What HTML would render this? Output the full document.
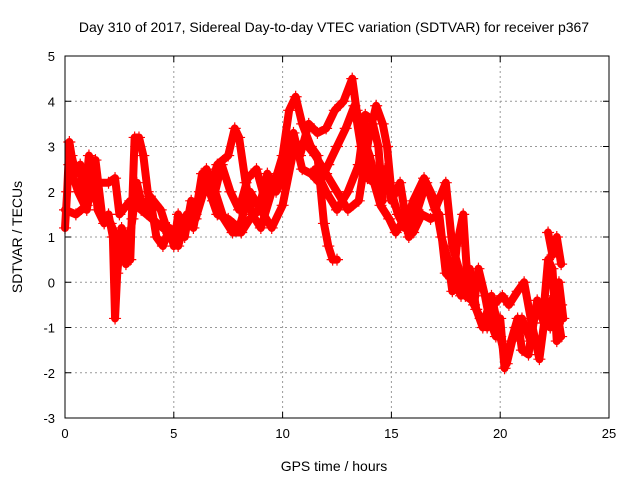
<!DOCTYPE html>
<html><head><meta charset="utf-8"><style>
html,body{margin:0;padding:0;background:#fff}
svg{display:block;font-family:"Liberation Sans",sans-serif}
</style></head><body>
<svg id="chart" width="640" height="480">
<rect width="640" height="480" fill="#fff"/>
<g id="grid"></g>
<g id="axes"></g>
<g id="marks"></g>
<rect x="65" y="56" width="544" height="362" fill="none" stroke="#000" stroke-width="1"/>
<text x="334" y="32" text-anchor="middle" font-size="14">Day 310 of 2017, Sidereal Day-to-day VTEC variation (SDTVAR) for receiver p367</text>
<text x="334" y="471" text-anchor="middle" font-size="14">GPS time / hours</text>
<text transform="translate(22,237) rotate(-90)" text-anchor="middle" font-size="14">SDTVAR / TECUs</text>
</svg>
<script>
const xTicks=[0,5,10,15,20,25];
const yTicks=[-3,-2,-1,0,1,2,3,4,5];
const trackA=[[0,1.2],[0.1,2],[0.2,3.1],[0.3,2.8],[0.5,2.4],[0.7,2.6],[0.9,1.8],[1.1,2.8],[1.3,2.6],[1.5,1.6],[1.8,1.3],[2.0,1.5],[2.2,1.0],[2.3,-0.8],[2.4,0.2],[2.6,1.2],[2.8,1.0],[3.0,0.5],[3.2,3.2],[3.4,3.2],[3.6,2.8],[3.8,2.0],[4.0,1.6],[4.2,1.0],[4.5,0.8],[4.8,1.2],[5,0.8],[5.2,1.5],[5.5,1.0],[5.8,1.8],[6.0,1.5],[6.3,2.4],[6.6,2.0],[7.0,2.6],[7.5,2.8],[7.8,3.4],[8.0,3.2],[8.3,2.2],[8.6,1.5],[9,1.2],[9.5,2.0],[10,2.8],[10.3,3.8],[10.6,4.1],[10.9,3.5],[11.3,3.0],[11.6,2.8],[11.9,1.3],[12.1,0.8],[12.3,0.5],[12.5,0.5]];
const trackB=[[0,1.6],[0.5,1.5],[1,1.7],[1.5,2.2],[2,2.2],[2.3,2.3],[2.5,1.5],[3,1.8],[3.5,1.6],[4,1.4],[4.5,1.2],[5,1.0],[5.5,1.2],[6,1.4],[6.5,2.2],[7,1.5],[7.5,1.4],[8,1.2],[8.5,2.0],[9,1.6],[9.5,1.2],[10,1.7],[10.5,2.9],[11,3.1],[11.5,2.8],[12,2.4],[12.5,2.0],[13,1.6],[13.5,1.8],[14,3.3],[14.3,3.9],[14.6,3.5],[14.8,3.0],[15,2.0],[15.3,1.5],[15.6,1.2],[16,1.8],[16.5,2.3],[17,1.8],[17.3,1.0],[17.6,0.5],[17.8,-0.2],[18,0.8],[18.3,1.5],[18.5,0.0],[18.8,-0.5],[19,0.3],[19.3,-0.3],[19.5,-0.8],[19.8,-1.2],[20,-0.8],[20.2,-1.9],[20.5,-1.3],[20.8,-0.8],[21,-1.5],[21.3,-1.6],[21.5,-0.9],[21.8,-0.5],[22,-0.6],[22.2,0.5],[22.4,0.3],[22.6,-1.3],[22.8,-0.5]];
const trackC=[[6.8,1.8],[7.2,2.6],[7.6,2.0],[8,1.6],[8.4,2.3],[8.8,2.5],[9.2,1.8],[9.6,2.3],[10,2.3],[10.4,3.0],[10.8,2.8],[11.2,3.5],[11.6,3.3],[12,3.4],[12.4,3.8],[12.8,4.0],[13.2,4.5],[13.4,3.8],[13.7,3.2],[14,2.8],[14.4,2.0],[14.7,2.5],[15,1.8],[15.4,2.2],[15.8,1.0],[16.2,1.6],[16.6,2.2],[17,1.6],[17.5,2.2],[17.8,0.8],[18.1,0.3],[18.4,-0.3],[18.7,-0.4],[19.1,-0.8],[19.4,-1.0],[19.7,-0.5],[20.1,-0.3],[20.4,-0.5],[20.8,-0.2],[21.1,0.0],[21.4,-0.8],[21.8,-1.7],[22.1,-0.6],[22.5,-0.3],[22.8,-1.2]];
const trackD=[[11.5,2.5],[12,2.0],[12.5,1.6],[13,2.0],[13.5,2.6],[13.8,3.7],[14.1,3.6],[14.4,3.0],[14.6,1.8]];
const trackE=[[22.2,1.1],[22.4,0.6],[22.6,1.0],[22.8,0.4]];
const trackF=[[0.2,2.6],[0.6,2.0],[1.0,1.6],[1.4,2.7],[1.7,1.5],[2.1,1.3],[2.5,0.8],[2.8,0.4],[3.1,1.4],[3.3,2.2],[3.6,1.6],[3.9,1.9],[4.4,1.6],[4.8,1.0],[5.2,0.8],[5.6,1.5],[5.9,1.2],[6.2,2.0],[6.5,2.5],[6.9,2.0],[7.3,1.4],[7.7,1.1],[8.1,1.1],[8.5,1.4],[8.9,1.6],[9.3,2.4],[9.7,2.0],[10.1,2.4],[10.5,3.3],[10.9,2.5],[11.3,2.4],[11.7,2.2],[12.1,2.6],[12.5,3.0],[12.9,3.4],[13.3,3.9],[13.6,3.0],[13.9,2.3],[14.2,2.2],[14.5,1.7],[14.9,1.4],[15.2,1.1],[15.6,1.4],[16.0,1.1],[16.4,1.5],[16.8,1.4],[17.2,1.5],[17.5,0.2],[17.9,0.0],[18.2,-0.3],[18.6,0.3],[18.9,-0.6],[19.2,-1.0],[19.6,-0.3],[20.0,-1.2],[20.3,-1.8],[20.7,-1.0],[21.0,-0.8],[21.4,-1.3],[21.7,-0.4],[22.0,-0.9],[22.3,-1.0],[22.7,0.0],[22.9,-0.8]];
const tracks=[trackA,trackB,trackC,trackD,trackE,trackF];
const NS="http://www.w3.org/2000/svg";
const X0=65,X1=609,Y0=418,Y1=56;
function sx(v){return X0+(v-0)/(25-0)*(X1-X0);}
function sy(v){return Y0-(v+3)/(8)*(Y0-Y1);}
function mk(t,a,parent){const e=document.createElementNS(NS,t);for(const k in a)e.setAttribute(k,a[k]);parent.appendChild(e);return e;}
const grid=document.getElementById('grid'),axes=document.getElementById('axes'),marks=document.getElementById('marks');
xTicks.forEach(t=>{const x=sx(t);
 if(t>0&&t<25){const g=mk('line',{x1:x,x2:x,y1:Y1,y2:Y0,stroke:'#999','stroke-dasharray':'2,3','stroke-width':1},grid);
 
 }
 mk('line',{x1:x,x2:x,y1:Y0,y2:Y0-6,stroke:'#000'},axes);mk('line',{x1:x,x2:x,y1:Y1,y2:Y1+6,stroke:'#000'},axes);
 const l=mk('text',{x:x,y:Y0+20,'text-anchor':'middle','font-size':13},axes);l.textContent=t;
 
 });
yTicks.forEach(t=>{const y=sy(t);
 if(t>-3&&t<5){const g=mk('line',{x1:X0,x2:X1,y1:y,y2:y,stroke:'#999','stroke-dasharray':'2,3','stroke-width':1},grid);
 
 }
 mk('line',{x1:X0,x2:X0+6,y1:y,y2:y,stroke:'#000'},axes);mk('line',{x1:X1,x2:X1-6,y1:y,y2:y,stroke:'#000'},axes);
 const l=mk('text',{x:X0-10,y:y+5,'text-anchor':'end','font-size':13},axes);l.textContent=t;
 
 });
tracks.forEach((tr,i)=>{
 const pl=mk('polyline',{points:tr.map(p=>sx(p[0])+','+sy(p[1])).join(' '),fill:'none',stroke:'#f00','stroke-width':8,'stroke-linejoin':'round','stroke-linecap':'round'},marks);
 
 
 tr.forEach(p=>{const x=sx(p[0]),y=sy(p[1]);
  const pt=mk('path',{d:`M${x-6},${y}H${x+6}M${x},${y-6}V${y+6}`,stroke:'#f00','stroke-width':1.2},marks);
  
  });
});
</script>
</body></html>
